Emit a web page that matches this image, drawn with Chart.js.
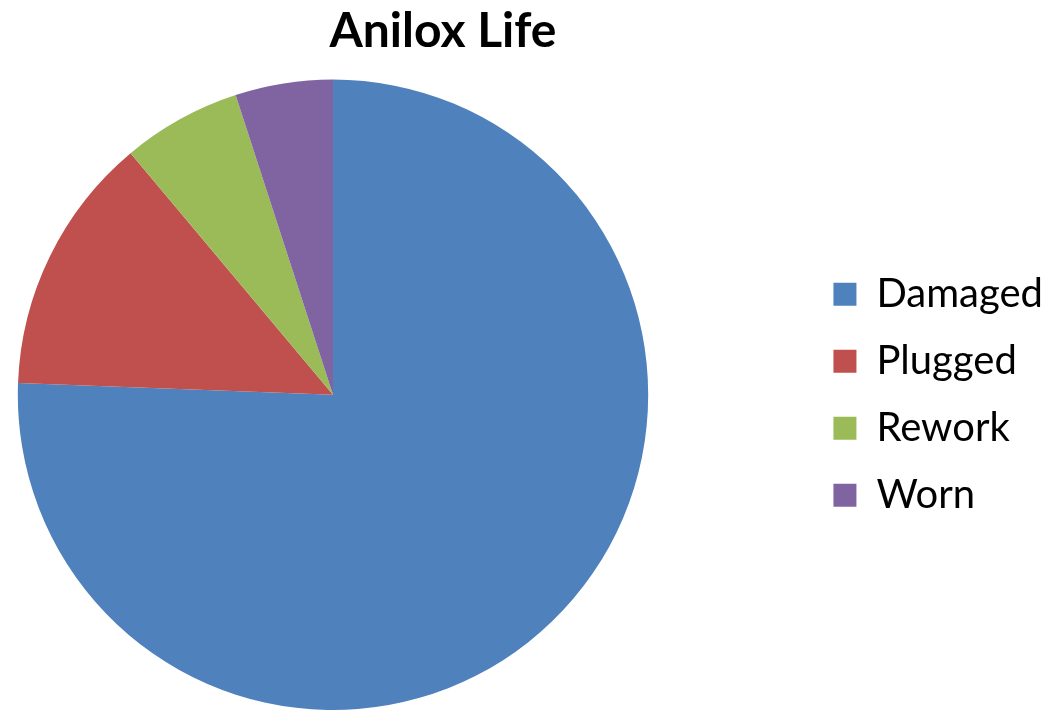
<!DOCTYPE html>
<html>
<head>
<meta charset="utf-8">
<title>Anilox Life</title>
<script src="https://cdn.jsdelivr.net/npm/chart.js@4/dist/chart.umd.min.js"></script>
<style>
  html, body { margin: 0; padding: 0; background: #fff; }
  #wrap { width: 1053px; height: 710px; }
</style>
</head>
<body>
<div id="wrap"><canvas id="pieChart" width="1053" height="710"></canvas></div>
<script>
  // chart data
  const categories = ['Damaged', 'Plugged', 'Rework', 'Worn'];
  const shares = [75.6, 13.3, 6.1, 5.0];
  const sliceColors = ['#4F81BD', '#C0504D', '#9BBB59', '#8064A2'];

  // pie sits left of the legend, centred at x = 333 like the original
  const pieCenterX = 333;
  const shiftPie = {
    id: 'shiftPie',
    afterLayout(chart) {
      const a = chart.chartArea;
      a.left = 2 * pieCenterX - a.right;
      a.width = a.right - a.left;
    }
  };

  new Chart(document.getElementById('pieChart'), {
    type: 'pie',
    data: {
      labels: categories,
      datasets: [{
        data: shares,
        backgroundColor: sliceColors,
        borderWidth: 0,
        clip: false
      }]
    },
    options: {
      responsive: false,
      animation: false,
      layout: { padding: { left: -167, right: 0, top: 0, bottom: 0 } },
      plugins: {
        title: {
          display: true,
          text: 'Anilox Life',
          color: '#000',
          font: { family: 'Lato', size: 48, weight: 'bold' },
          padding: { top: 3, bottom: 19 }
        },
        legend: {
          position: 'right',
          fullSize: false,
          labels: {
            color: '#000',
            font: { family: 'Lato', size: 40 },
            boxWidth: 23,
            boxHeight: 23,
            padding: 27
          }
        },
        tooltip: { enabled: false }
      }
    },
    plugins: [shiftPie]
  });
</script>
</body>
</html>
